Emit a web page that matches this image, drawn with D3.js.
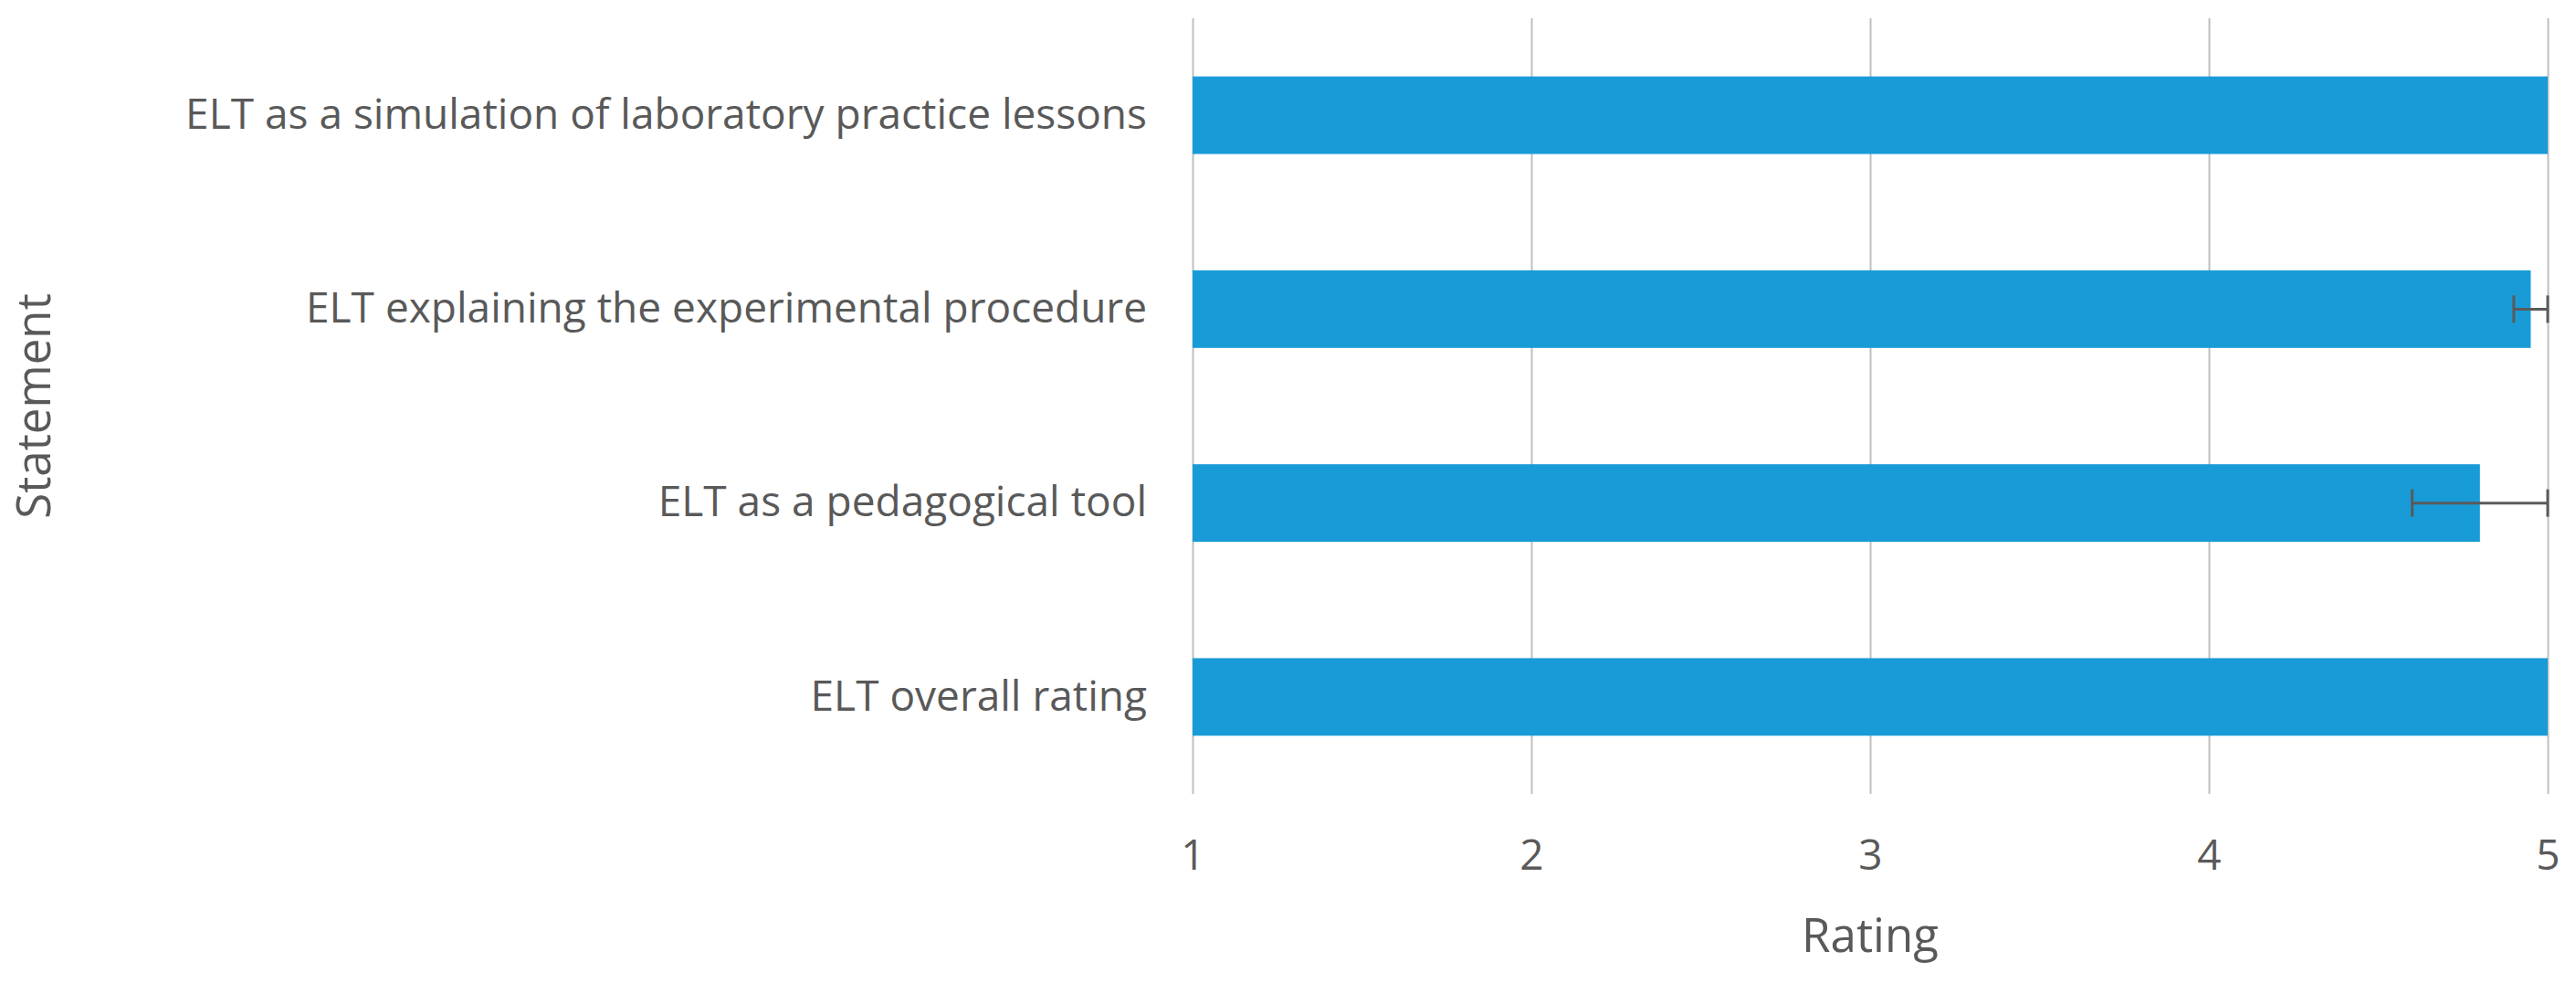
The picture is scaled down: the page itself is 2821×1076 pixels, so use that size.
<!DOCTYPE html>
<html>
<head>
<meta charset="utf-8">
<script src="https://cdn.jsdelivr.net/npm/d3@7"></script>
<style>
  body { margin: 0; background: #fff; }
  .grid line { stroke: #bfbfbf; stroke-width: 2px; }
  .grid .domain { display: none; }
  text { font-family: "Open Sans", sans-serif; fill: #595959; }
</style>
</head>
<body>
<div class="canvas"></div>
<script>
var pageWidth = 2821,
    pageHeight = 1076;
var margins = {t:20, r:31, b:207, l:1306};
var plotWidth = pageWidth - margins.l - margins.r,
    plotHeight = pageHeight - margins.t - margins.b;

// data, top to bottom as in the picture
var statements = [
  'ELT as a simulation of laboratory practice lessons',
  'ELT explaining the experimental procedure',
  'ELT as a pedagogical tool',
  'ELT overall rating'
];
var ratings = [5.0, 4.95, 4.8, 5.0];
var errors = [0, 0.05, 0.2, 0];
var xTicks = [1, 2, 3, 4, 5];

var svg = d3.select('.canvas')
    .append('svg')
    .attr('width', pageWidth)
    .attr('height', pageHeight);

var plot = svg.append('g')
    .attr('transform', 'translate(' + margins.l + ',' + margins.t + ')');

var x = d3.scaleLinear()
    .domain([1, 5])
    .range([0, plotWidth]);

var y = d3.scaleBand()
    .domain(statements)
    .range([0, plotHeight])
    .paddingInner(0.6)
    .paddingOuter(0.3);

// vertical gridlines (the one at 1 doubles as the axis line)
plot.append('g')
    .attr('class', 'grid')
    .attr('transform', 'translate(0,' + plotHeight + ')')
    .call(d3.axisBottom(x).tickValues(xTicks).tickSize(-plotHeight).tickFormat(''));

// bars
plot.selectAll('.bar')
    .data(statements)
    .enter()
    .append('rect')
    .attr('class', 'bar')
    .attr('x', x(1))
    .attr('y', function(d){ return y(d); })
    .attr('width', function(d, i){ return x(ratings[i]) - x(1); })
    .attr('height', y.bandwidth())
    .style('fill', '#189bd7');

// error bars (plus side clipped at the top of the scale)
var capHalf = 15;
var errG = plot.append('g').attr('class', 'error-bars');
statements.forEach(function(d, i){
  if (!errors[i]) return;
  var cy = y(d) + y.bandwidth() / 2;
  var lo = x(ratings[i] - errors[i]),
      hi = x(Math.min(5, ratings[i] + errors[i]));
  errG.append('line')
      .attr('x1', lo).attr('x2', hi)
      .attr('y1', cy).attr('y2', cy);
  errG.append('line')
      .attr('x1', lo).attr('x2', lo)
      .attr('y1', cy - capHalf).attr('y2', cy + capHalf);
  errG.append('line')
      .attr('x1', hi).attr('x2', hi)
      .attr('y1', cy - capHalf).attr('y2', cy + capHalf);
});
errG.selectAll('line')
    .style('stroke', '#5a5a5a')
    .style('stroke-width', 3);

// category labels
var yAxis = plot.append('g')
    .call(d3.axisLeft(y).tickSize(0).tickPadding(50));
yAxis.select('.domain').remove();
yAxis.selectAll('text')
    .style('font-size', '46px')
    .style('fill', '#595959');

// x tick labels
var xAxis = plot.append('g')
    .attr('transform', 'translate(0,' + plotHeight + ')')
    .call(d3.axisBottom(x).tickValues(xTicks).tickSize(0).tickPadding(50).tickFormat(d3.format('d')));
xAxis.select('.domain').remove();
xAxis.selectAll('text')
    .style('font-size', '46px')
    .style('fill', '#595959');

// axis titles
svg.append('text')
    .attr('x', margins.l + plotWidth / 2)
    .attr('y', 1042)
    .attr('text-anchor', 'middle')
    .style('font-size', '51px')
    .text('Rating');

svg.append('text')
    .attr('transform', 'translate(55,' + (margins.t + plotHeight / 2) + ') rotate(-90)')
    .attr('text-anchor', 'middle')
    .style('font-size', '51px')
    .text('Statement');
</script>
</body>
</html>
